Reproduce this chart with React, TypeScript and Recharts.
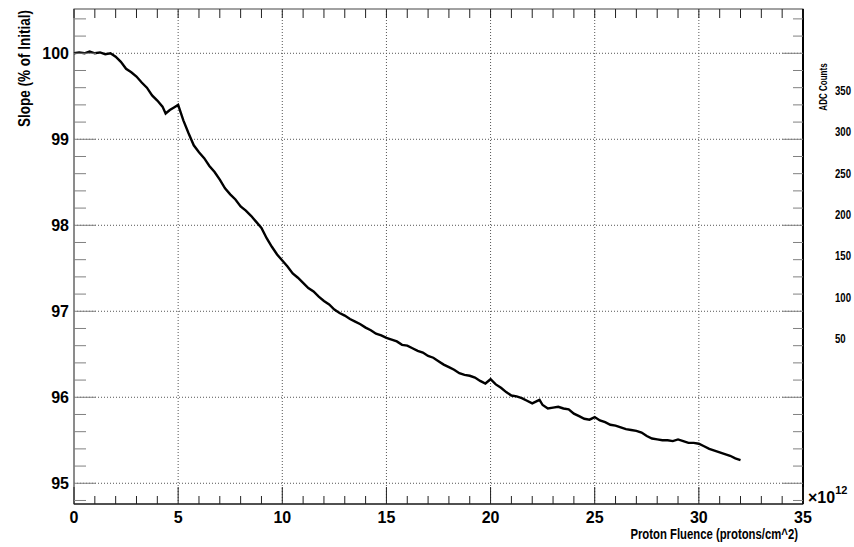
import { Customized, Line, LineChart, ReferenceLine, XAxis, YAxis } from "recharts";

// proton fluence (x 1e12 protons/cm^2) and slope (% of initial)
const fluence = [
  0, 0.25, 0.5, 0.75, 1, 1.25, 1.5, 1.75, 2, 2.25, 2.5, 2.75, 3, 3.25, 3.5, 3.75, 4, 4.25, 4.4, 4.6, 4.8, 5,
  5.25, 5.5, 5.75, 6, 6.25, 6.5, 6.75, 7, 7.25, 7.5, 7.75, 8, 8.25, 8.5, 8.75, 9, 9.25, 9.5, 9.75, 10,
  10.25, 10.5, 10.75, 11, 11.25, 11.5, 11.75, 12, 12.25, 12.5, 12.75, 13, 13.25, 13.5, 13.75, 14, 14.25,
  14.5, 14.75, 15, 15.25, 15.5, 15.75, 16, 16.25, 16.5, 16.75, 17, 17.25, 17.5, 17.75, 18, 18.25, 18.5,
  18.75, 19, 19.25, 19.5, 19.75, 20, 20.25, 20.5, 20.75, 21, 21.25, 21.5, 21.75, 22, 22.35, 22.5, 22.75,
  23, 23.25, 23.5, 23.75, 24, 24.25, 24.5, 24.75, 25, 25.25, 25.5, 25.75, 26, 26.25, 26.5, 26.75, 27,
  27.25, 27.5, 27.75, 28, 28.25, 28.5, 28.75, 29, 29.25, 29.5, 29.75, 30, 30.25, 30.5, 30.75, 31, 31.25,
  31.5, 31.75, 32,
];
const slope = [
  100.0, 100.01, 100.0, 100.02, 100.0, 100.01, 99.99, 100.0, 99.96, 99.9, 99.82, 99.78, 99.73, 99.66,
  99.6, 99.51, 99.45, 99.38, 99.3, 99.34, 99.37, 99.4, 99.22, 99.07, 98.93, 98.85, 98.78, 98.69, 98.62,
  98.53, 98.43, 98.36, 98.3, 98.22, 98.17, 98.11, 98.04, 97.97, 97.85, 97.75, 97.66, 97.59, 97.52, 97.44,
  97.39, 97.33, 97.27, 97.23, 97.17, 97.12, 97.08, 97.02, 96.98, 96.95, 96.91, 96.88, 96.85, 96.81,
  96.78, 96.74, 96.72, 96.69, 96.67, 96.65, 96.61, 96.6, 96.57, 96.54, 96.52, 96.48, 96.46, 96.42,
  96.38, 96.35, 96.32, 96.28, 96.26, 96.25, 96.23, 96.19, 96.16, 96.21, 96.15, 96.11, 96.06, 96.02,
  96.01, 95.99, 95.96, 95.93, 95.97, 95.91, 95.87, 95.88, 95.89, 95.87, 95.86, 95.81, 95.78, 95.75,
  95.74, 95.77, 95.73, 95.71, 95.68, 95.67, 95.65, 95.63, 95.62, 95.61, 95.59, 95.55, 95.52, 95.51,
  95.5, 95.5, 95.49, 95.51, 95.49, 95.47, 95.47, 95.46, 95.43, 95.4, 95.38, 95.36, 95.34, 95.32, 95.29,
  95.27,
];

const xTicks = [
  0, 1, 2, 3, 4, 5, 6, 7, 8, 9, 10, 11, 12, 13, 14, 15, 16, 17, 18, 19, 20, 21, 22, 23, 24, 25, 26, 27,
  28, 29, 30, 31, 32, 33, 34, 35,
];
const xGrid = [5, 10, 15, 20, 25, 30];
const yTicks = [
  94.8, 95, 95.2, 95.4, 95.6, 95.8, 96, 96.2, 96.4, 96.6, 96.8, 97, 97.2, 97.4, 97.6, 97.8, 98, 98.2,
  98.4, 98.6, 98.8, 99, 99.2, 99.4, 99.6, 99.8, 100, 100.2, 100.4,
];
const yGrid = [95, 96, 97, 98, 99, 100];
const adcTicks = [50, 100, 150, 200, 250, 300, 350];

const data = fluence.map((f, i) => ({ fluence: f, slope: slope[i] }));

const W = 854;
const H = 547;
const PL = 74;
const PR = 803;
const PT = 9;
const PB = 504;
const font = "'Liberation Sans', Arial, Helvetica, sans-serif";

function BottomTick(props: any) {
  const { x, payload } = props;
  const v = payload.value as number;
  const major = v % 5 === 0;
  return (
    <g>
      <line x1={x} x2={x} y1={PB} y2={PB - (major ? 17 : 8)} stroke="#222" />
      <line x1={x} x2={x} y1={PT} y2={PT + 9} stroke="#222" />
      {major && (
        <text x={x} y={523} textAnchor="middle" fontFamily={font} fontWeight="bold" fontSize={16} fill="#000">
          {v}
        </text>
      )}
    </g>
  );
}

function LeftTick(props: any) {
  const { y, payload } = props;
  const v = payload.value as number;
  const major = Math.abs(v - Math.round(v)) < 1e-6;
  return (
    <g>
      <line x1={PL} x2={PL + (major ? 22 : 12)} y1={y} y2={y} stroke="#808080" />
      <line x1={PR} x2={PR - (major ? 21 : 10)} y1={y} y2={y} stroke="#808080" />
      {major && (
        <text x={69} y={y + 5.5} textAnchor="end" fontFamily={font} fontWeight="bold" fontSize={16} fill="#000">
          {Math.round(v)}
        </text>
      )}
    </g>
  );
}

function AdcTick(props: any) {
  const { y, payload } = props;
  const v = payload.value as number;
  return (
    <text
      transform={`translate(835, ${y + 5}) scale(0.8, 1)`}
      fontFamily={font}
      fontWeight="bold"
      fontSize={12}
      fill="#000"
    >
      {v}
    </text>
  );
}

function Decorations() {
  return (
    <g>
      <rect x={PL} y={PT} width={PR - PL} height={PB - PT} fill="none" stroke="#444" />
      <line x1={PL} x2={PL} y1={PT} y2={PB} stroke="#777" />
      <line x1={PL} x2={PR} y1={PB} y2={PB} stroke="#000" />
      <line x1={PR} x2={PR} y1={PT} y2={PB} stroke="#000" strokeWidth={2} />
      <text
        transform={`translate(24, ${PT + 1}) rotate(-90) scale(0.845, 1)`}
        textAnchor="end"
        dy="0.35em"
        fontFamily={font}
        fontWeight="bold"
        fontSize={16}
      >
        Slope (% of Initial)
      </text>
      <text
        transform="translate(798, 539) scale(0.755, 1)"
        textAnchor="end"
        fontFamily={font}
        fontWeight="bold"
        fontSize={15}
      >
        Proton Fluence (protons/cm^2)
      </text>
      <text x={808} y={503} fontFamily={font} fontWeight="bold" fontSize={16}>
        ×10
        <tspan dy={-9} fontSize={11}>
          12
        </tspan>
      </text>
      <text
        transform="translate(823, 87) rotate(-90) scale(0.73, 1)"
        textAnchor="middle"
        dy="0.35em"
        fontFamily={font}
        fontWeight="bold"
        fontSize={11}
      >
        ADC Counts
      </text>
    </g>
  );
}

export default function App() {
  return (
    <div style={{ position: "absolute", left: 0, top: 0, width: W, height: H, background: "#fff" }}>
      <LineChart width={W} height={H} data={data} margin={{ top: PT, right: 0, bottom: 0, left: 0 }}>
        <XAxis
          dataKey="fluence"
          type="number"
          domain={[0, 35]}
          ticks={xTicks}
          interval={0}
          height={H - PB}
          axisLine={false}
          tickLine={false}
          tick={<BottomTick />}
        />
        <YAxis
          yAxisId="left"
          type="number"
          domain={[94.759, 100.515]}
          ticks={yTicks}
          interval={0}
          width={PL}
          axisLine={false}
          tickLine={false}
          tick={<LeftTick />}
          allowDataOverflow
        />
        <YAxis
          yAxisId="adc"
          orientation="right"
          type="number"
          domain={[-150.7, 448]}
          ticks={adcTicks}
          interval={0}
          width={W - PR}
          axisLine={false}
          tickLine={false}
          tick={<AdcTick />}
          allowDataOverflow
        />
        {yGrid.map((v) => (
          <ReferenceLine key={`h${v}`} yAxisId="left" y={v} stroke="#555" strokeDasharray="1 2" />
        ))}
        {xGrid.map((v) => (
          <ReferenceLine key={`v${v}`} yAxisId="left" x={v} stroke="#555" strokeDasharray="1 2" />
        ))}
        <Customized component={<Decorations />} />
        <Line
          yAxisId="left"
          dataKey="slope"
          type="linear"
          stroke="#000"
          strokeWidth={2.4}
          dot={false}
          isAnimationActive={false}
        />
      </LineChart>
    </div>
  );
}
